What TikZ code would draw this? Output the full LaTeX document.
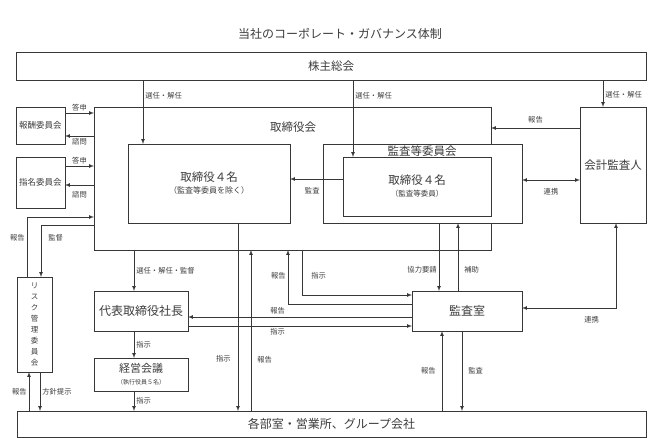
\documentclass[tikz,border=0pt]{standalone}
\usepackage{fontspec}
\setmainfont{Noto Sans CJK JP}
\usetikzlibrary{arrows}
\definecolor{lineGray}{RGB}{55, 55, 55}
\definecolor{textGray}{RGB}{60, 60, 60}

\begin{document}
\begin{tikzpicture}
    [
		x=1pt, y=-1pt,
		>=latex,
		box/.style={
			draw=lineGray, line width=0.9pt, inner sep=0pt, outer sep=0pt,
			align=center, text=textGray
		},
		big/.style={font=\fontsize{11.5}{14}\selectfont},
		lbl/.style={font=\fontsize{7.3}{9}\selectfont, text=textGray, inner sep=2pt},
		conn/.style={->, draw=lineGray, line width=0.7pt}
	]

\useasboundingbox (0,0) rectangle (648,438);

% Nodes
\node (title) at (340,34) [font=\fontsize{12}{14}\selectfont, text=textGray]
	{当社のコーポレート・ガバナンス体制};
\node (share) at (331,66) [box, big, minimum width=630pt, minimum height=28pt] {株主総会};

\node (board) at (292.5,178.5) [box, minimum width=397pt, minimum height=143pt] {};
\node (boardtitle) at (293,127) [big, text=textGray] {取締役会};
\node (dirs) at (209,183.5) [box, minimum width=162pt, minimum height=79pt]
	{{\fontsize{11.5}{14}\selectfont 取締役４名}\\{\fontsize{8}{10}\selectfont （監査等委員を除く）}};
\node (auditcom) at (422.5,183.5) [box, fill=white, minimum width=199pt, minimum height=79pt] {};
\node (auditcomtitle) at (422,151) [big, text=textGray] {監査等委員会};
\node (auditdirs) at (417,186.5) [box, minimum width=148pt, minimum height=59pt]
	{{\fontsize{11.5}{14}\selectfont 取締役４名}\\{\fontsize{7.5}{10}\selectfont （監査等委員）}};
\node (accaud) at (613,165) [box, big, minimum width=66pt, minimum height=116pt] {会計監査人};

\node (remcom) at (40.5,125.5) [box, font=\fontsize{8.5}{10}\selectfont,
	minimum width=49pt, minimum height=37pt] {報酬委員会};
\node (nomcom) at (40.5,182.5) [box, font=\fontsize{8.5}{10}\selectfont,
	minimum width=49pt, minimum height=51pt] {指名委員会};
\node (risk) at (34.5,324.5) [box, font=\fontsize{7.5}{11}\selectfont,
	minimum width=35pt, minimum height=95pt] {リ\\ス\\ク\\管\\理\\委\\員\\会};

\node (ceo) at (141,311) [box, font=\fontsize{12}{14}\selectfont,
	minimum width=94pt, minimum height=40pt] {代表取締役社長};
\node (mgmt) at (141,374.5) [box, minimum width=94pt, minimum height=33pt]
	{{\fontsize{11}{12}\selectfont 経営会議}\\{\fontsize{6}{8}\selectfont （執行役員５名）}};
\node (iaud) at (467,311) [box, font=\fontsize{12}{14}\selectfont,
	minimum width=110pt, minimum height=40pt] {監査室};
\node (depts) at (331.5,424) [box, font=\fontsize{12}{14}\selectfont,
	minimum width=629pt, minimum height=26pt] {各部室・営業所、グループ会社};

% Connectors
\draw [conn] (share.south -| 143,0) -- (dirs.north -| 143,0)
	node [lbl, right, pos=0.25] {選任・解任};
\draw [conn] (share.south -| 353,0) -- (auditdirs.north -| 353,0)
	node [lbl, right, pos=0.21] {選任・解任};
\draw [conn] (share.south -| 603,0) -- (accaud.north -| 603,0)
	node [lbl, right, pos=0.55] {選任・解任};

\draw [conn] (remcom.east |- 0,113) -- (board.west |- 0,113)
	node [lbl, above, midway] {答申};
\draw [conn] (board.west |- 0,136) -- (remcom.east |- 0,136)
	node [lbl, below, midway] {諮問};
\draw [conn] (nomcom.east |- 0,166) -- (board.west |- 0,166)
	node [lbl, above, midway] {答申};
\draw [conn] (board.west |- 0,185) -- (nomcom.east |- 0,185)
	node [lbl, below=4pt, midway] {諮問};

\draw [conn] (risk.north -| 27,0) |- (board.west |- 0,217)
	node [lbl, left, pos=0.33] {報告};
\draw [conn] (board.west |- 0,225) -| (risk.north -| 41,0)
	node [lbl, right=5pt, pos=0.62] {監督};

\draw [conn] (auditdirs.west |- 0,179) -- (dirs.east |- 0,179)
	node [lbl, below=6pt, pos=0.58] {監査};
\draw [conn] (accaud.west |- 0,128) -- (board.east |- 0,128)
	node [lbl, above=2pt, midway] {報告};
\draw [conn, <->] (auditcom.east |- 0,180) -- (accaud.west |- 0,180)
	node [lbl, below=6pt, midway] {連携};

\draw [conn] (board.south -| 134,0) -- (ceo.north -| 134,0)
	node [lbl, right, midway] {選任・解任・監督};
\draw [conn] (ceo.south -| 134,0) -- (mgmt.north -| 134,0)
	node [lbl, right, midway] {指示};
\draw [conn] (mgmt.south -| 134,0) -- (depts.north -| 134,0)
	node [lbl, right, midway] {指示};

\draw [conn] (dirs.south -| 238,0) -- (depts.north -| 238,0)
	node [lbl, left=5pt, pos=0.72] {指示};
\draw [conn] (depts.north -| 251,0) -- (board.south -| 251,0)
	node [lbl, right=4pt, pos=0.32] {報告};
\draw [conn] (iaud.west |- 0,304) -| (board.south -| 288,0)
	node [lbl, left, pos=0.76] {報告};
\draw [conn] (board.south -| 302,0) |- (iaud.west |- 0,295)
	node [lbl, right=7pt, pos=0.29] {指示};
\draw [conn] (iaud.west |- 0,317) -- (ceo.east |- 0,317)
	node [lbl, above, pos=0.6] {報告};
\draw [conn] (ceo.east |- 0,326) -- (iaud.west |- 0,326)
	node [lbl, below, pos=0.4] {指示};

\draw [conn] (auditcom.south -| 439,0) -- (iaud.north -| 439,0)
	node [lbl, left, pos=0.68] {協力要請};
\draw [conn] (iaud.north -| 458,0) -- (auditcom.south -| 458,0)
	node [lbl, right=4pt, pos=0.32] {補助};
\draw [conn, <->] (accaud.south -| 616,0) |- (iaud.east |- 0,308)
	node [lbl, below=6pt, pos=0.63] {連携};

\draw [conn] (depts.north -| 442,0) -- (iaud.south -| 442,0)
	node [lbl, left=4pt, midway] {報告};
\draw [conn] (iaud.south -| 462,0) -- (depts.north -| 462,0)
	node [lbl, right=4pt, midway] {監査};

\draw [conn] (depts.north -| 29,0) -- (risk.south -| 29,0)
	node [lbl, left, midway] {報告};
\draw [conn] (risk.south -| 40,0) -- (depts.north -| 40,0)
	node [lbl, right, midway] {方針提示};

\end{tikzpicture}
\end{document}
